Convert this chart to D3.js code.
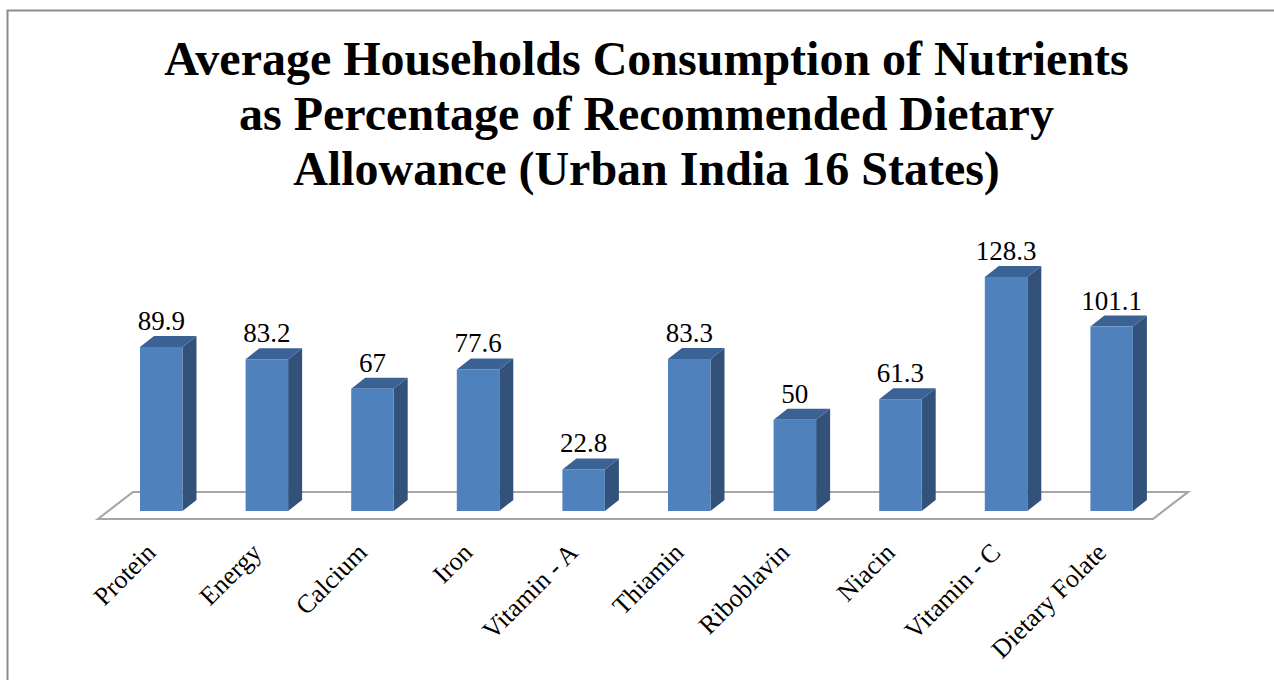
<!DOCTYPE html>
<html>
<head>
<meta charset="utf-8">
<script src="https://cdn.jsdelivr.net/npm/d3@7/dist/d3.min.js"></script>
<style>
  html, body { margin: 0; padding: 0; background: #fff; }
  svg { display: block; }
</style>
</head>
<body>
<svg id="chart" width="1274" height="680"></svg>
<script>
// Nutrient categories and their consumption as % of RDA
const categories = ["Protein", "Energy", "Calcium", "Iron", "Vitamin - A", "Thiamin", "Riboblavin", "Niacin", "Vitamin - C", "Dietary Folate"];
const values = [89.9, 83.2, 67, 77.6, 22.8, 83.3, 50, 61.3, 128.3, 101.1];
const valueLabels = ["89.9", "83.2", "67", "77.6", "22.8", "83.3", "50", "61.3", "128.3", "101.1"];
const titleLines = [
  "Average Households Consumption of Nutrients",
  "as Percentage of Recommended Dietary",
  "Allowance (Urban India 16 States)"
];

const svg = d3.select("#chart");
const W = 1274, H = 680;
const serif = "'Liberation Serif', 'Times New Roman', Times, serif";

// outer chart frame
svg.append("rect")
  .attr("x", 7.5).attr("y", 10.5)
  .attr("width", W + 20).attr("height", H + 20)
  .attr("fill", "#fff").attr("stroke", "#8c8c8c").attr("stroke-width", 2);

// title
svg.append("g").selectAll("text")
  .data(titleLines).join("text")
  .attr("x", 646.5)
  .attr("y", (d, i) => 75 + i * 55)
  .attr("text-anchor", "middle")
  .attr("font-family", serif)
  .attr("font-weight", "bold")
  .attr("font-size", 48)
  .attr("fill", "#000")
  .text(d => d);

// scales
const x = d3.scaleBand().domain(categories).range([108.45, 1164.45]).padding(0);
const y = d3.scaleLinear().domain([0, 140]).range([511, 255.6]);
const barW = 42.5;
const depthX = 14, depthY = 11;      // bar depth offset
const barX = c => x(c) + (x.step() - barW) / 2;
const barC = c => x(c) + x.step() / 2;

// floor (3D base plane)
const r = x.range();
const floorFront = y(0) + 8, floorBack = y(0) - 19;
const fl = r[0] - 10.5, fr = r[1] - 11.5, fdx = 35;
svg.append("path")
  .attr("d", `M${fl},${floorFront} L${fl + fdx},${floorBack} L${fr + fdx},${floorBack} L${fr},${floorFront} Z`)
  .attr("fill", "none")
  .attr("stroke", "#a6a6a6")
  .attr("stroke-width", 2.2);

// bars
const data = categories.map((c, i) => ({ c, v: values[i], label: valueLabels[i] }));
const bars = svg.append("g").selectAll("g").data(data).join("g");

// right side face
bars.append("path")
  .attr("d", d => {
    const x1 = barX(d.c) + barW, yt = y(d.v), yb = y(0);
    return `M${x1},${yb} L${x1},${yt} L${x1 + depthX},${yt - depthY} L${x1 + depthX},${yb - depthY} Z`;
  })
  .attr("fill", "#32527c");

// top face
bars.append("path")
  .attr("d", d => {
    const x0 = barX(d.c), yt = y(d.v);
    return `M${x0},${yt} L${x0 + depthX},${yt - depthY} L${x0 + barW + depthX},${yt - depthY} L${x0 + barW},${yt} Z`;
  })
  .attr("fill", "#3b6295");

// front face
bars.append("rect")
  .attr("x", d => barX(d.c))
  .attr("y", d => y(d.v))
  .attr("width", barW)
  .attr("height", d => y(0) - y(d.v))
  .attr("fill", "#4f81bd");

// value labels
bars.append("text")
  .attr("x", d => barC(d.c))
  .attr("y", d => y(d.v) - depthY - 6)
  .attr("text-anchor", "middle")
  .attr("font-family", serif)
  .attr("font-size", 27)
  .attr("fill", "#000")
  .text(d => d.label);

// category labels, rotated
svg.append("g").selectAll("text")
  .data(categories).join("text")
  .attr("text-anchor", "end")
  .attr("transform", c => `translate(${barC(c) - 4},${554}) rotate(-45)`)
  .attr("font-family", serif)
  .attr("font-size", 26)
  .attr("fill", "#000")
  .text(c => c);
</script>
</body>
</html>
